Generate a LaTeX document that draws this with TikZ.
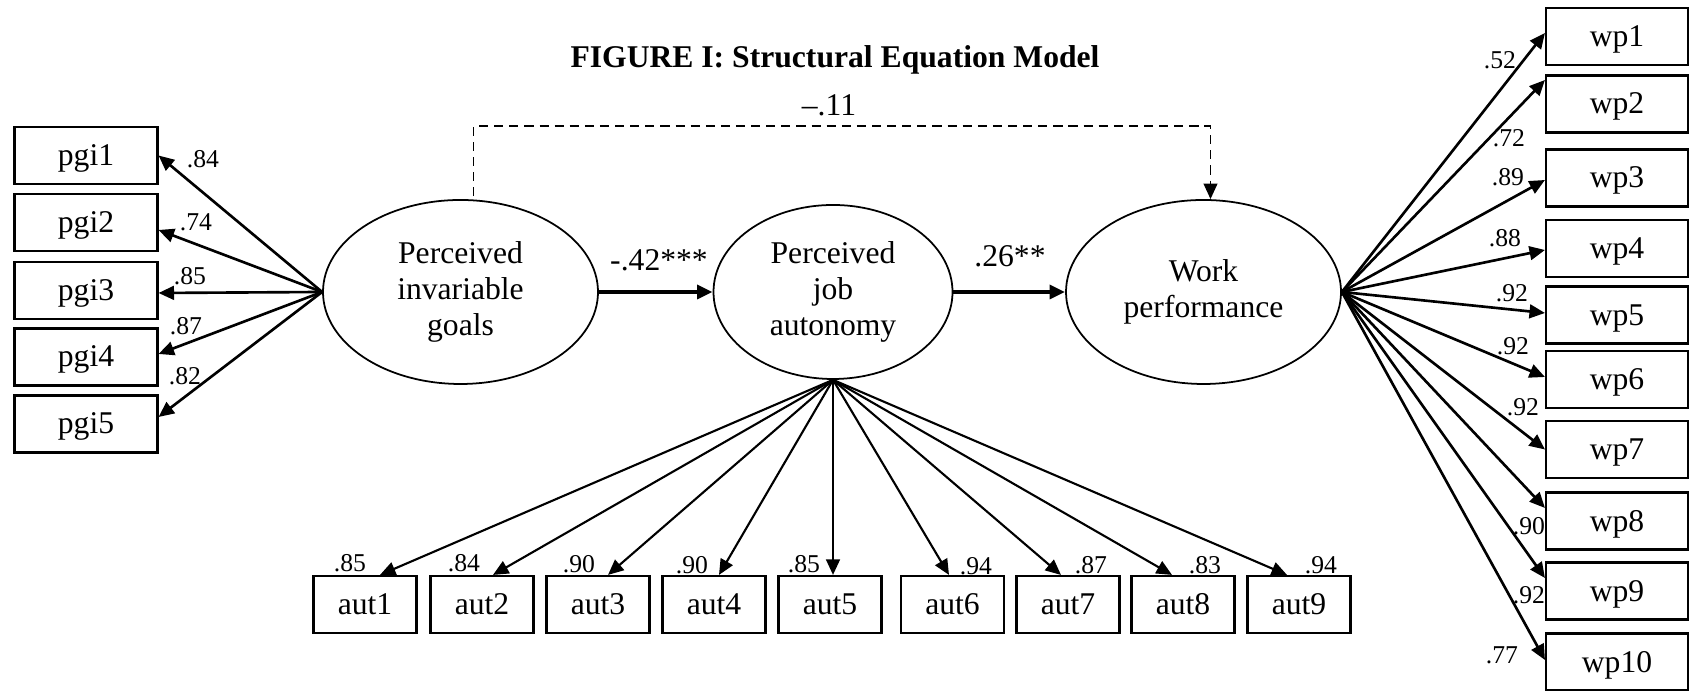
\documentclass[tikz,border=0pt]{standalone}
\usepackage{fontspec}
\setmainfont{Liberation Serif}
\usetikzlibrary{arrows.meta,shapes.geometric,calc}

\begin{document}
\begin{tikzpicture}[x=1cm,y=1cm,>={Triangle[length=4.4pt,width=3.9pt]},
  latent/.style={ellipse,draw,line width=0.5pt,inner sep=0pt,align=center,font=\fontsize{9}{10.3}\selectfont},
  item/.style={rectangle,draw,line width=0.6pt,inner sep=0pt,minimum height=0.57cm,text height=6.3pt,text depth=0.6pt,font=\fontsize{9}{10.3}\selectfont},
  pgibox/.style={item,minimum width=1.43cm},
  wpbox/.style={item,minimum width=1.42cm},
  autbox/.style={item,minimum width=1.03cm},
  load/.style={->,line width=0.75pt},
  autload/.style={->,line width=0.6pt},
  coef/.style={font=\fontsize{7.3}{8}\selectfont,inner sep=0pt},
  pathlbl/.style={font=\fontsize{9}{10.3}\selectfont,inner sep=0pt},
  structpath/.style={->,line width=1.1pt}]
\useasboundingbox (0,0) rectangle (16.89,6.91);
\node[font=\fontsize{9}{10.3}\selectfont\bfseries] (title) at (8.35,6.31) {FIGURE I: Structural Equation Model};
% latent variables
\node[latent,minimum width=2.75cm,minimum height=1.84cm] (pig) at (4.605,3.99) {Perceived\\invariable\\goals};
\node[latent,minimum width=2.39cm,minimum height=1.74cm] (pja) at (8.33,3.99) {Perceived\\job\\autonomy};
\node[latent,minimum width=2.75cm,minimum height=1.84cm] (wperf) at (12.035,3.99) {Work\\performance};
% indicators
\node[pgibox] (pgi1) at (0.86,5.355) {pgi1};
\node[pgibox] (pgi2) at (0.86,4.685) {pgi2};
\node[pgibox] (pgi3) at (0.86,4.005) {pgi3};
\node[pgibox] (pgi4) at (0.86,3.34) {pgi4};
\node[pgibox] (pgi5) at (0.86,2.67) {pgi5};
\node[wpbox] (wp1) at (16.17,6.545) {wp1};
\node[wpbox] (wp2) at (16.17,5.87) {wp2};
\node[wpbox] (wp3) at (16.17,5.13) {wp3};
\node[wpbox] (wp4) at (16.17,4.425) {wp4};
\node[wpbox] (wp5) at (16.17,3.76) {wp5};
\node[wpbox] (wp6) at (16.17,3.115) {wp6};
\node[wpbox] (wp7) at (16.17,2.415) {wp7};
\node[wpbox] (wp8) at (16.17,1.70) {wp8};
\node[wpbox] (wp9) at (16.17,1.00) {wp9};
\node[wpbox] (wp10) at (16.17,0.29) {wp10};
\node[autbox] (aut1) at (3.65,0.865) {aut1};
\node[autbox] (aut2) at (4.82,0.865) {aut2};
\node[autbox] (aut3) at (5.98,0.865) {aut3};
\node[autbox] (aut4) at (7.14,0.865) {aut4};
\node[autbox] (aut5) at (8.30,0.865) {aut5};
\node[autbox] (aut6) at (9.525,0.865) {aut6};
\node[autbox] (aut7) at (10.68,0.865) {aut7};
\node[autbox] (aut8) at (11.83,0.865) {aut8};
\node[autbox] (aut9) at (12.99,0.865) {aut9};
% structural paths
\draw[structpath] (pig.east) -- (pja.west);
\draw[structpath] (pja.east) -- (wperf.west);
\node[pathlbl] (b1) at (6.59,4.31) {-.42***};
\node[pathlbl] (b2) at (10.10,4.35) {.26**};
\draw[->,line width=0.5pt,dash pattern=on 2.6pt off 1.7pt] ([xshift=0.13cm,yshift=0.03cm]pig.north) -- ++(0,0.70) -| ([xshift=0.07cm]wperf.north);
\node[pathlbl] (b3) at (8.29,5.86) {--.11};
% pgi loadings
\draw[load] (pig.west) -- (pgi1.east);
\draw[load] (pig.west) -- ([yshift=-0.075cm]pgi2.east);
\draw[load] (pig.west) -- ([yshift=-0.025cm]pgi3.east);
\draw[load] (pig.west) -- ([yshift=0.03cm]pgi4.east);
\draw[load] (pig.west) -- ([yshift=0.07cm]pgi5.east);
\node[coef] (lp1) at (2.03,5.32) {.84};
\node[coef] (lp2) at (1.96,4.69) {.74};
\node[coef] (lp3) at (1.90,4.15) {.85};
\node[coef] (lp4) at (1.86,3.65) {.87};
\node[coef] (lp5) at (1.85,3.15) {.82};
% wp loadings
\draw[load] (wperf.east) -- ([yshift=0.035cm]wp1.west);
\draw[load] (wperf.east) -- ([yshift=0.24cm]wp2.west);
\draw[load] (wperf.east) -- ([yshift=-0.02cm]wp3.west);
\draw[load] (wperf.east) -- ([yshift=-0.015cm]wp4.west);
\draw[load] (wperf.east) -- ([yshift=0.02cm]wp5.west);
\draw[load] (wperf.east) -- ([yshift=0.025cm]wp6.west);
\draw[load] (wperf.east) -- (wp7.west);
\draw[load] (wperf.east) -- ([yshift=0.13cm]wp8.west);
\draw[load] (wperf.east) -- ([yshift=0.13cm]wp9.west);
\draw[load] (wperf.east) -- ([yshift=0.02cm]wp10.west);
\node[coef] (lw1) at (15.00,6.31) {.52};
\node[coef] (lw2) at (15.09,5.53) {.72};
\node[coef] (lw3) at (15.08,5.14) {.89};
\node[coef] (lw4) at (15.05,4.53) {.88};
\node[coef] (lw5) at (15.12,3.98) {.92};
\node[coef] (lw6) at (15.13,3.45) {.92};
\node[coef] (lw7) at (15.23,2.84) {.92};
\node[coef] (lw8) at (15.29,1.65) {.90};
\node[coef] (lw9) at (15.29,0.96) {.92};
\node[coef] (lw10) at (15.02,0.36) {.77};
% aut loadings
\draw[autload] (pja.south) -- ([xshift=0.15cm]aut1.north);
\draw[autload] (pja.south) -- ([xshift=0.11cm]aut2.north);
\draw[autload] (pja.south) -- ([xshift=0.10cm]aut3.north);
\draw[autload] (pja.south) -- ([xshift=0.05cm]aut4.north);
\draw[autload] (pja.south) -- (pja.south |- aut5.north);
\draw[autload] (pja.south) -- ([xshift=-0.035cm]aut6.north);
\draw[autload] (pja.south) -- ([xshift=-0.07cm]aut7.north);
\draw[autload] (pja.south) -- ([xshift=-0.11cm]aut8.north);
\draw[autload] (pja.south) -- ([xshift=-0.12cm]aut9.north);
\node[coef] (la1) at (3.50,1.28) {.85};
\node[coef] (la2) at (4.64,1.28) {.84};
\node[coef] (la3) at (5.79,1.27) {.90};
\node[coef] (la4) at (6.92,1.26) {.90};
\node[coef] (la5) at (8.04,1.27) {.85};
\node[coef] (la6) at (9.76,1.25) {.94};
\node[coef] (la7) at (10.91,1.26) {.87};
\node[coef] (la8) at (12.05,1.26) {.83};
\node[coef] (la9) at (13.21,1.26) {.94};
\end{tikzpicture}
\end{document}
